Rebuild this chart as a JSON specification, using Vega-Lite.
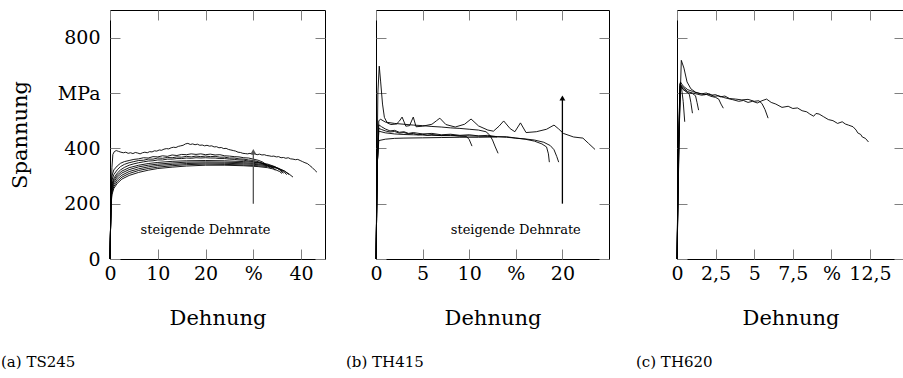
{
"$schema": "https://vega.github.io/schema/vega-lite/v6.json",
"padding": {"left": 0, "top": 9, "right": 0, "bottom": 0},
"config": {
 "font": "DejaVu Serif",
 "view": {"stroke": "black", "strokeWidth": 1},
 "axis": {"domain": false, "grid": false, "tickColor": "#808080", "tickSize": -10, "tickWidth": 1, "labelFlush": false, "labelFont": "DejaVu Serif", "labelFontSize": 19, "labelColor": "black", "titleFont": "DejaVu Serif", "titleFontSize": 21, "titleFontWeight": "normal", "titleColor": "black"},
 "title": {"font": "DejaVu Serif", "fontSize": 15, "fontWeight": "normal", "color": "black", "orient": "bottom", "anchor": "start", "frame": "group"},
 "line": {"color": "black", "strokeWidth": 0.9}
},
"datasets": {
 "a": [
  {"s":"A1","x":0,"y":0},{"s":"A1","x":0.2,"y":200},{"s":"A1","x":0.4,"y":330},{"s":"A1","x":0.6,"y":378},{"s":"A1","x":0.9,"y":388},{"s":"A1","x":1.3,"y":392},{"s":"A1","x":1.8,"y":389},{"s":"A1","x":2.3,"y":386},{"s":"A1","x":2.8,"y":384},{"s":"A1","x":3.3,"y":386},{"s":"A1","x":3.8,"y":382},{"s":"A1","x":4.3,"y":384},{"s":"A1","x":4.8,"y":381},{"s":"A1","x":5.3,"y":385},{"s":"A1","x":5.8,"y":383},{"s":"A1","x":6.3,"y":380},{"s":"A1","x":6.8,"y":384},{"s":"A1","x":7.3,"y":386},{"s":"A1","x":7.8,"y":384},{"s":"A1","x":8.3,"y":388},{"s":"A1","x":8.8,"y":387},{"s":"A1","x":9.3,"y":391},{"s":"A1","x":9.8,"y":390},{"s":"A1","x":10.3,"y":394},{"s":"A1","x":10.8,"y":393},{"s":"A1","x":11.3,"y":397},{"s":"A1","x":11.8,"y":399},{"s":"A1","x":12.3,"y":398},{"s":"A1","x":12.8,"y":402},{"s":"A1","x":13.3,"y":404},{"s":"A1","x":13.8,"y":403},{"s":"A1","x":14.3,"y":407},{"s":"A1","x":14.8,"y":409},{"s":"A1","x":15.3,"y":411},{"s":"A1","x":15.8,"y":416},{"s":"A1","x":16.3,"y":418},{"s":"A1","x":16.8,"y":414},{"s":"A1","x":17.3,"y":416},{"s":"A1","x":17.8,"y":413},{"s":"A1","x":18.3,"y":415},{"s":"A1","x":18.8,"y":411},{"s":"A1","x":19.3,"y":412},{"s":"A1","x":19.8,"y":409},{"s":"A1","x":20.3,"y":411},{"s":"A1","x":20.8,"y":408},{"s":"A1","x":21.3,"y":409},{"s":"A1","x":21.8,"y":405},{"s":"A1","x":22.3,"y":406},{"s":"A1","x":22.8,"y":402},{"s":"A1","x":23.3,"y":403},{"s":"A1","x":23.8,"y":399},{"s":"A1","x":24.3,"y":400},{"s":"A1","x":24.8,"y":396},{"s":"A1","x":25.3,"y":394},{"s":"A1","x":25.8,"y":392},{"s":"A1","x":26.3,"y":390},{"s":"A1","x":26.8,"y":386},{"s":"A1","x":27.3,"y":385},{"s":"A1","x":27.8,"y":382},{"s":"A1","x":28.3,"y":381},{"s":"A1","x":28.8,"y":380},{"s":"A1","x":29.3,"y":382},{"s":"A1","x":29.8,"y":379},{"s":"A1","x":30.3,"y":380},{"s":"A1","x":30.8,"y":377},{"s":"A1","x":31.3,"y":379},{"s":"A1","x":31.8,"y":376},{"s":"A1","x":32.3,"y":377},{"s":"A1","x":32.8,"y":374},{"s":"A1","x":33.3,"y":373},{"s":"A1","x":33.8,"y":371},{"s":"A1","x":34.3,"y":372},{"s":"A1","x":34.8,"y":369},{"s":"A1","x":35.3,"y":370},{"s":"A1","x":35.8,"y":366},{"s":"A1","x":36.3,"y":367},{"s":"A1","x":36.8,"y":364},{"s":"A1","x":37.3,"y":366},{"s":"A1","x":37.8,"y":362},{"s":"A1","x":38.3,"y":361},{"s":"A1","x":38.8,"y":359},{"s":"A1","x":39.3,"y":360},{"s":"A1","x":39.8,"y":356},{"s":"A1","x":40.3,"y":352},{"s":"A1","x":40.8,"y":348},{"s":"A1","x":41.3,"y":345},{"s":"A1","x":41.8,"y":338},{"s":"A1","x":42.3,"y":331},{"s":"A1","x":42.8,"y":322},{"s":"A1","x":43.3,"y":314},
  {"s":"A2","x":0,"y":0},{"s":"A2","x":0.2,"y":200},{"s":"A2","x":0.4,"y":300},{"s":"A2","x":0.8,"y":322},{"s":"A2","x":1.5,"y":336},{"s":"A2","x":2.2,"y":346},{"s":"A2","x":3,"y":352},{"s":"A2","x":4,"y":356},{"s":"A2","x":5,"y":360},{"s":"A2","x":6,"y":362},{"s":"A2","x":7,"y":366},{"s":"A2","x":8,"y":365},{"s":"A2","x":9,"y":370},{"s":"A2","x":10,"y":369},{"s":"A2","x":11,"y":373},{"s":"A2","x":12,"y":371},{"s":"A2","x":13,"y":376},{"s":"A2","x":14,"y":374},{"s":"A2","x":15,"y":378},{"s":"A2","x":16,"y":377},{"s":"A2","x":17,"y":380},{"s":"A2","x":18,"y":378},{"s":"A2","x":19,"y":380},{"s":"A2","x":20,"y":377},{"s":"A2","x":21,"y":379},{"s":"A2","x":22,"y":376},{"s":"A2","x":23,"y":377},{"s":"A2","x":24,"y":373},{"s":"A2","x":25,"y":372},{"s":"A2","x":26,"y":370},{"s":"A2","x":27,"y":369},{"s":"A2","x":28,"y":366},{"s":"A2","x":29,"y":365},{"s":"A2","x":30,"y":361},{"s":"A2","x":31,"y":357},{"s":"A2","x":32,"y":350},{"s":"A2","x":32.8,"y":340},
  {"s":"A3","x":0,"y":0},{"s":"A3","x":0.2,"y":200},{"s":"A3","x":0.4,"y":285},{"s":"A3","x":0.8,"y":305},{"s":"A3","x":1.5,"y":322},{"s":"A3","x":2.2,"y":334},{"s":"A3","x":3,"y":342},{"s":"A3","x":4,"y":348},{"s":"A3","x":5,"y":352},{"s":"A3","x":6,"y":356},{"s":"A3","x":7,"y":357},{"s":"A3","x":8,"y":361},{"s":"A3","x":9,"y":361},{"s":"A3","x":10,"y":365},{"s":"A3","x":11,"y":364},{"s":"A3","x":12,"y":367},{"s":"A3","x":13,"y":366},{"s":"A3","x":14,"y":369},{"s":"A3","x":15,"y":368},{"s":"A3","x":16,"y":371},{"s":"A3","x":17,"y":369},{"s":"A3","x":18,"y":372},{"s":"A3","x":19,"y":370},{"s":"A3","x":20,"y":372},{"s":"A3","x":21,"y":370},{"s":"A3","x":22,"y":371},{"s":"A3","x":23,"y":368},{"s":"A3","x":24,"y":368},{"s":"A3","x":25,"y":365},{"s":"A3","x":26,"y":365},{"s":"A3","x":27,"y":362},{"s":"A3","x":28,"y":361},{"s":"A3","x":29,"y":358},{"s":"A3","x":30,"y":356},{"s":"A3","x":31,"y":352},{"s":"A3","x":32,"y":346},{"s":"A3","x":33,"y":338},{"s":"A3","x":33.6,"y":328},
  {"s":"A4","x":0,"y":0},{"s":"A4","x":0.2,"y":200},{"s":"A4","x":0.4,"y":270},{"s":"A4","x":0.8,"y":292},{"s":"A4","x":1.5,"y":310},{"s":"A4","x":2.2,"y":322},{"s":"A4","x":3,"y":331},{"s":"A4","x":4,"y":339},{"s":"A4","x":5,"y":344},{"s":"A4","x":6,"y":348},{"s":"A4","x":7,"y":351},{"s":"A4","x":8,"y":354},{"s":"A4","x":9,"y":355},{"s":"A4","x":10,"y":358},{"s":"A4","x":11,"y":358},{"s":"A4","x":12,"y":361},{"s":"A4","x":13,"y":361},{"s":"A4","x":14,"y":363},{"s":"A4","x":15,"y":363},{"s":"A4","x":16,"y":365},{"s":"A4","x":17,"y":364},{"s":"A4","x":18,"y":366},{"s":"A4","x":19,"y":365},{"s":"A4","x":20,"y":366},{"s":"A4","x":21,"y":365},{"s":"A4","x":22,"y":365},{"s":"A4","x":23,"y":363},{"s":"A4","x":24,"y":363},{"s":"A4","x":25,"y":361},{"s":"A4","x":26,"y":360},{"s":"A4","x":27,"y":358},{"s":"A4","x":28,"y":357},{"s":"A4","x":29,"y":354},{"s":"A4","x":30,"y":352},{"s":"A4","x":31,"y":349},{"s":"A4","x":32,"y":345},{"s":"A4","x":33,"y":339},{"s":"A4","x":34,"y":330},{"s":"A4","x":34.6,"y":320},
  {"s":"S1","x":0,"y":0},{"s":"S1","x":0.2,"y":210},{"s":"S1","x":0.4,"y":262},{"s":"S1","x":0.8,"y":285},{"s":"S1","x":1.5,"y":303},{"s":"S1","x":2.5,"y":318},{"s":"S1","x":4,"y":330},{"s":"S1","x":6,"y":339},{"s":"S1","x":8,"y":345},{"s":"S1","x":10,"y":349},{"s":"S1","x":13,"y":353},{"s":"S1","x":16,"y":355},{"s":"S1","x":20,"y":356},{"s":"S1","x":24,"y":355},{"s":"S1","x":28,"y":352},{"s":"S1","x":31,"y":348},{"s":"S1","x":33,"y":343},{"s":"S1","x":34.5,"y":334},{"s":"S1","x":35.5,"y":322},{"s":"S1","x":36.3,"y":310},
  {"s":"S2","x":0,"y":0},{"s":"S2","x":0.2,"y":205},{"s":"S2","x":0.4,"y":255},{"s":"S2","x":0.8,"y":278},{"s":"S2","x":1.5,"y":296},{"s":"S2","x":2.5,"y":311},{"s":"S2","x":4,"y":323},{"s":"S2","x":6,"y":333},{"s":"S2","x":8,"y":339},{"s":"S2","x":10,"y":343},{"s":"S2","x":13,"y":347},{"s":"S2","x":16,"y":350},{"s":"S2","x":20,"y":351},{"s":"S2","x":24,"y":350},{"s":"S2","x":28,"y":348},{"s":"S2","x":31,"y":344},{"s":"S2","x":33,"y":340},{"s":"S2","x":34.5,"y":333},{"s":"S2","x":35.5,"y":324},{"s":"S2","x":36.5,"y":313},{"s":"S2","x":37,"y":305},
  {"s":"S3","x":0,"y":0},{"s":"S3","x":0.2,"y":200},{"s":"S3","x":0.4,"y":248},{"s":"S3","x":0.8,"y":270},{"s":"S3","x":1.5,"y":288},{"s":"S3","x":2.5,"y":303},{"s":"S3","x":4,"y":316},{"s":"S3","x":6,"y":326},{"s":"S3","x":8,"y":333},{"s":"S3","x":10,"y":338},{"s":"S3","x":13,"y":342},{"s":"S3","x":16,"y":345},{"s":"S3","x":20,"y":347},{"s":"S3","x":24,"y":346},{"s":"S3","x":28,"y":344},{"s":"S3","x":31,"y":341},{"s":"S3","x":33,"y":337},{"s":"S3","x":35,"y":330},{"s":"S3","x":36.5,"y":318},{"s":"S3","x":37.5,"y":305},
  {"s":"S4","x":0,"y":0},{"s":"S4","x":0.2,"y":195},{"s":"S4","x":0.4,"y":240},{"s":"S4","x":0.8,"y":262},{"s":"S4","x":1.5,"y":280},{"s":"S4","x":2.5,"y":296},{"s":"S4","x":4,"y":309},{"s":"S4","x":6,"y":320},{"s":"S4","x":8,"y":327},{"s":"S4","x":10,"y":332},{"s":"S4","x":13,"y":337},{"s":"S4","x":16,"y":341},{"s":"S4","x":20,"y":343},{"s":"S4","x":24,"y":342},{"s":"S4","x":28,"y":340},{"s":"S4","x":31,"y":337},{"s":"S4","x":33,"y":334},{"s":"S4","x":35,"y":328},{"s":"S4","x":36.5,"y":318},{"s":"S4","x":37.5,"y":307},{"s":"S4","x":38.3,"y":296},
  {"s":"S5","x":0,"y":0},{"s":"S5","x":0.2,"y":190},{"s":"S5","x":0.4,"y":232},{"s":"S5","x":0.8,"y":255},{"s":"S5","x":1.5,"y":273},{"s":"S5","x":2.5,"y":289},{"s":"S5","x":4,"y":302},{"s":"S5","x":6,"y":313},{"s":"S5","x":8,"y":321},{"s":"S5","x":10,"y":327},{"s":"S5","x":13,"y":332},{"s":"S5","x":16,"y":336},{"s":"S5","x":20,"y":339},{"s":"S5","x":24,"y":339},{"s":"S5","x":28,"y":337},{"s":"S5","x":31,"y":334},{"s":"S5","x":33,"y":330},{"s":"S5","x":34.5,"y":324},{"s":"S5","x":35.5,"y":316},{"s":"S5","x":36,"y":309}
 ],
 "b": [
  {"s":"B1","x":0,"y":0},{"s":"B1","x":0.2,"y":600},{"s":"B1","x":0.35,"y":697},{"s":"B1","x":0.5,"y":640},{"s":"B1","x":0.7,"y":560},{"s":"B1","x":0.9,"y":512},{"s":"B1","x":1.2,"y":492},{"s":"B1","x":1.6,"y":486},{"s":"B1","x":2.2,"y":488},{"s":"B1","x":2.5,"y":498},{"s":"B1","x":2.8,"y":513},{"s":"B1","x":3.2,"y":480},{"s":"B1","x":3.6,"y":482},{"s":"B1","x":4.0,"y":513},{"s":"B1","x":4.3,"y":478},{"s":"B1","x":5,"y":480},{"s":"B1","x":6,"y":487},{"s":"B1","x":6.5,"y":500},{"s":"B1","x":6.85,"y":509},{"s":"B1","x":7.5,"y":486},{"s":"B1","x":8.5,"y":477},{"s":"B1","x":9.5,"y":487},{"s":"B1","x":10.2,"y":506},{"s":"B1","x":11,"y":481},{"s":"B1","x":12,"y":466},{"s":"B1","x":12.6,"y":462},{"s":"B1","x":13.2,"y":480},{"s":"B1","x":13.7,"y":499},{"s":"B1","x":14.4,"y":471},{"s":"B1","x":14.9,"y":460},{"s":"B1","x":15.5,"y":492},{"s":"B1","x":16.1,"y":457},{"s":"B1","x":17.2,"y":460},{"s":"B1","x":18.3,"y":469},{"s":"B1","x":19.1,"y":484},{"s":"B1","x":19.6,"y":470},{"s":"B1","x":20.1,"y":454},{"s":"B1","x":21.2,"y":441},{"s":"B1","x":22.2,"y":437},{"s":"B1","x":22.8,"y":418},{"s":"B1","x":23.5,"y":396},
  {"s":"B2","x":0,"y":0},{"s":"B2","x":0.15,"y":350},{"s":"B2","x":0.3,"y":500},{"s":"B2","x":0.5,"y":505},{"s":"B2","x":1,"y":495},{"s":"B2","x":2,"y":490},{"s":"B2","x":3,"y":487},{"s":"B2","x":4,"y":484},{"s":"B2","x":5,"y":482},{"s":"B2","x":6,"y":479},{"s":"B2","x":7,"y":477},{"s":"B2","x":8,"y":474},{"s":"B2","x":9,"y":472},{"s":"B2","x":10,"y":469},{"s":"B2","x":11,"y":466},{"s":"B2","x":11.8,"y":460},{"s":"B2","x":12.2,"y":448},{"s":"B2","x":12.5,"y":430},{"s":"B2","x":12.8,"y":405},{"s":"B2","x":13.1,"y":382},
  {"s":"B3","x":0,"y":0},{"s":"B3","x":0.15,"y":350},{"s":"B3","x":0.3,"y":472},{"s":"B3","x":0.6,"y":468},{"s":"B3","x":1,"y":463},{"s":"B3","x":1.5,"y":459},{"s":"B3","x":2,"y":461},{"s":"B3","x":2.5,"y":455},{"s":"B3","x":3,"y":457},{"s":"B3","x":3.5,"y":452},{"s":"B3","x":4,"y":454},{"s":"B3","x":4.5,"y":449},{"s":"B3","x":5,"y":451},{"s":"B3","x":5.5,"y":447},{"s":"B3","x":6,"y":450},{"s":"B3","x":7,"y":446},{"s":"B3","x":8,"y":448},{"s":"B3","x":9,"y":444},{"s":"B3","x":9.7,"y":443},{"s":"B3","x":10.0,"y":432},{"s":"B3","x":10.3,"y":408},
  {"s":"B4","x":0,"y":0},{"s":"B4","x":0.15,"y":350},{"s":"B4","x":0.3,"y":485},{"s":"B4","x":0.6,"y":478},{"s":"B4","x":1,"y":470},{"s":"B4","x":1.5,"y":463},{"s":"B4","x":2,"y":465},{"s":"B4","x":2.5,"y":458},{"s":"B4","x":3,"y":460},{"s":"B4","x":3.5,"y":454},{"s":"B4","x":4,"y":457},{"s":"B4","x":5,"y":452},{"s":"B4","x":6,"y":454},{"s":"B4","x":7,"y":449},{"s":"B4","x":8,"y":451},{"s":"B4","x":9,"y":447},{"s":"B4","x":10,"y":449},{"s":"B4","x":11,"y":445},{"s":"B4","x":12,"y":447},{"s":"B4","x":13,"y":442},{"s":"B4","x":14,"y":442},{"s":"B4","x":15,"y":437},{"s":"B4","x":16,"y":433},{"s":"B4","x":17,"y":426},{"s":"B4","x":17.8,"y":416},{"s":"B4","x":18.3,"y":405},{"s":"B4","x":18.5,"y":380},{"s":"B4","x":18.6,"y":350},
  {"s":"B5","x":0,"y":0},{"s":"B5","x":0.15,"y":350},{"s":"B5","x":0.3,"y":462},{"s":"B5","x":1,"y":456},{"s":"B5","x":2,"y":452},{"s":"B5","x":3,"y":450},{"s":"B5","x":4,"y":449},{"s":"B5","x":5,"y":448},{"s":"B5","x":6,"y":447},{"s":"B5","x":7,"y":446},{"s":"B5","x":8,"y":446},{"s":"B5","x":9,"y":445},{"s":"B5","x":10,"y":445},{"s":"B5","x":11,"y":444},{"s":"B5","x":12,"y":443},{"s":"B5","x":13,"y":442},{"s":"B5","x":14,"y":440},{"s":"B5","x":15,"y":437},{"s":"B5","x":16,"y":434},{"s":"B5","x":17,"y":430},{"s":"B5","x":18,"y":422},{"s":"B5","x":18.7,"y":410},{"s":"B5","x":19.1,"y":395},{"s":"B5","x":19.4,"y":370},{"s":"B5","x":19.6,"y":350},
  {"s":"B6","x":0,"y":0},{"s":"B6","x":0.15,"y":350},{"s":"B6","x":0.3,"y":428},{"s":"B6","x":1,"y":433},{"s":"B6","x":2,"y":436},{"s":"B6","x":3,"y":437},{"s":"B6","x":5,"y":438},{"s":"B6","x":7,"y":439},{"s":"B6","x":9,"y":440},{"s":"B6","x":11,"y":440},{"s":"B6","x":13,"y":441}
 ],
 "c": [
  {"s":"C1","x":0,"y":0},{"s":"C1","x":0.15,"y":480},{"s":"C1","x":0.28,"y":718},{"s":"C1","x":0.45,"y":690},{"s":"C1","x":0.65,"y":640},{"s":"C1","x":0.9,"y":615},{"s":"C1","x":1.2,"y":603},{"s":"C1","x":1.5,"y":598},{"s":"C1","x":1.8,"y":594},{"s":"C1","x":2.1,"y":597},{"s":"C1","x":2.4,"y":588},{"s":"C1","x":2.7,"y":590},{"s":"C1","x":3.0,"y":584},{"s":"C1","x":3.3,"y":580},{"s":"C1","x":3.6,"y":576},{"s":"C1","x":4.0,"y":570},{"s":"C1","x":4.3,"y":573},{"s":"C1","x":4.6,"y":566},{"s":"C1","x":4.9,"y":570},{"s":"C1","x":5.2,"y":564},{"s":"C1","x":5.5,"y":572},{"s":"C1","x":5.8,"y":578},{"s":"C1","x":6.1,"y":566},{"s":"C1","x":6.4,"y":560},{"s":"C1","x":6.8,"y":548},{"s":"C1","x":7.2,"y":552},{"s":"C1","x":7.5,"y":544},{"s":"C1","x":7.8,"y":546},{"s":"C1","x":8.1,"y":536},{"s":"C1","x":8.4,"y":532},{"s":"C1","x":8.6,"y":524},{"s":"C1","x":8.85,"y":516},{"s":"C1","x":9.0,"y":526},{"s":"C1","x":9.2,"y":524},{"s":"C1","x":9.5,"y":514},{"s":"C1","x":9.8,"y":504},{"s":"C1","x":10.1,"y":500},{"s":"C1","x":10.4,"y":490},{"s":"C1","x":10.7,"y":496},{"s":"C1","x":10.9,"y":488},{"s":"C1","x":11.1,"y":484},{"s":"C1","x":11.4,"y":478},{"s":"C1","x":11.6,"y":466},{"s":"C1","x":11.7,"y":456},{"s":"C1","x":11.9,"y":450},{"s":"C1","x":12.0,"y":441},{"s":"C1","x":12.2,"y":436},{"s":"C1","x":12.4,"y":423},
  {"s":"C2","x":0,"y":0},{"s":"C2","x":0.12,"y":400},{"s":"C2","x":0.22,"y":640},{"s":"C2","x":0.4,"y":625},{"s":"C2","x":0.7,"y":612},{"s":"C2","x":1.0,"y":606},{"s":"C2","x":1.3,"y":600},{"s":"C2","x":1.6,"y":597},{"s":"C2","x":1.9,"y":600},{"s":"C2","x":2.2,"y":592},{"s":"C2","x":2.5,"y":594},{"s":"C2","x":2.8,"y":586},{"s":"C2","x":3.1,"y":589},{"s":"C2","x":3.4,"y":580},{"s":"C2","x":3.8,"y":578},{"s":"C2","x":4.2,"y":575},{"s":"C2","x":4.6,"y":577},{"s":"C2","x":5.0,"y":570},{"s":"C2","x":5.3,"y":572},{"s":"C2","x":5.5,"y":562},{"s":"C2","x":5.7,"y":540},{"s":"C2","x":5.9,"y":509},
  {"s":"C3","x":0,"y":0},{"s":"C3","x":0.1,"y":350},{"s":"C3","x":0.2,"y":630},{"s":"C3","x":0.4,"y":620},{"s":"C3","x":0.7,"y":605},{"s":"C3","x":1.0,"y":600},{"s":"C3","x":1.3,"y":596},{"s":"C3","x":1.6,"y":592},{"s":"C3","x":1.9,"y":595},{"s":"C3","x":2.2,"y":588},{"s":"C3","x":2.5,"y":584},{"s":"C3","x":2.7,"y":578},{"s":"C3","x":2.85,"y":560},{"s":"C3","x":3.0,"y":545},
  {"s":"C4","x":0,"y":0},{"s":"C4","x":0.1,"y":380},{"s":"C4","x":0.2,"y":625},{"s":"C4","x":0.4,"y":615},{"s":"C4","x":0.7,"y":600},{"s":"C4","x":1.0,"y":598},{"s":"C4","x":1.2,"y":590},{"s":"C4","x":1.3,"y":565},{"s":"C4","x":1.4,"y":538},
  {"s":"C5","x":0,"y":0},{"s":"C5","x":0.1,"y":400},{"s":"C5","x":0.2,"y":635},{"s":"C5","x":0.4,"y":612},{"s":"C5","x":0.6,"y":605},{"s":"C5","x":0.8,"y":595},{"s":"C5","x":0.9,"y":565},{"s":"C5","x":1.0,"y":527},
  {"s":"C6","x":0,"y":0},{"s":"C6","x":0.1,"y":450},{"s":"C6","x":0.2,"y":632},{"s":"C6","x":0.3,"y":615},{"s":"C6","x":0.4,"y":570},{"s":"C6","x":0.5,"y":496}
 ],
 "arrowA": [{"x":30,"y":200,"y2":388}],
 "arrowB": [{"x":20,"y":200,"y2":582}],
 "labelA": [{"x":20,"y":105,"t":"steigende Dehnrate"}],
 "labelB": [{"x":15,"y":105,"t":"steigende Dehnrate"}]
},
"spacing": 51,
"bounds": "flush",
"hconcat": [
 {
  "width": 215, "height": 249,
  "title": {"text": "(a) TS245", "dx": -109, "offset": 27},
  "resolve": {"axis": {"x": "independent", "y": "independent"}},
  "layer": [
   {"data": {"name": "a"}, "mark": {"type": "line"},
    "encoding": {
     "x": {"field": "x", "type": "quantitative", "scale": {"domain": [0, 45], "nice": false}, "axis": {"values": [0, 10, 20, 30, 40], "labelExpr": "datum.value == 30 ? '%' : datum.label", "title": "Dehnung", "labelPadding": 15, "titlePadding": 24}},
     "y": {"field": "y", "type": "quantitative", "scale": {"domain": [0, 900], "nice": false}, "axis": {"values": [0, 200, 400, 600, 800], "labelExpr": "datum.value == 600 ? 'MPa' : datum.label", "title": "Spannung", "labelPadding": 20, "titlePadding": 27}},
     "detail": {"field": "s"}}},
   {"data": {"name": "arrowA"}, "mark": {"type": "rule", "color": "#555555", "strokeWidth": 1.3},
    "encoding": {"x": {"field": "x", "type": "quantitative", "axis": null}, "y": {"field": "y", "type": "quantitative", "axis": null}, "y2": {"field": "y2"}}},
   {"data": {"name": "arrowA"}, "mark": {"type": "point", "shape": "triangle-up", "filled": true, "color": "#555555", "size": 35, "opacity": 1},
    "encoding": {"x": {"field": "x", "type": "quantitative", "axis": null}, "y": {"field": "y2", "type": "quantitative", "axis": null}}},
   {"data": {"name": "labelA"}, "mark": {"type": "text", "fontSize": 13, "color": "black", "font": "DejaVu Serif"},
    "encoding": {
     "x": {"field": "x", "type": "quantitative", "axis": {"orient": "top", "values": [0, 10, 20, 30, 40], "labels": false, "title": null}},
     "y": {"field": "y", "type": "quantitative", "axis": {"orient": "right", "values": [0, 200, 400, 600, 800], "labels": false, "title": null}},
     "text": {"field": "t"}}}
  ]
 },
 {
  "spacing": 68,
  "bounds": "flush",
  "hconcat": [
   {
    "width": 233, "height": 249,
    "title": {"text": "(b) TH415", "dx": -30, "offset": 27},
    "resolve": {"axis": {"x": "independent", "y": "independent"}},
    "layer": [
     {"data": {"name": "b"}, "mark": {"type": "line"},
      "encoding": {
       "x": {"field": "x", "type": "quantitative", "scale": {"domain": [0, 25], "nice": false}, "axis": {"values": [0, 5, 10, 15, 20], "labelExpr": "datum.value == 15 ? '%' : datum.label", "title": "Dehnung", "labelPadding": 15, "titlePadding": 24}},
       "y": {"field": "y", "type": "quantitative", "scale": {"domain": [0, 900], "nice": false}, "axis": {"values": [0, 200, 400, 600, 800], "labels": false, "title": null}},
       "detail": {"field": "s"}}},
     {"data": {"name": "arrowB"}, "mark": {"type": "rule", "color": "black", "strokeWidth": 1.3},
      "encoding": {"x": {"field": "x", "type": "quantitative", "axis": null}, "y": {"field": "y", "type": "quantitative", "axis": null}, "y2": {"field": "y2"}}},
     {"data": {"name": "arrowB"}, "mark": {"type": "point", "shape": "triangle-up", "filled": true, "color": "black", "size": 35, "opacity": 1},
      "encoding": {"x": {"field": "x", "type": "quantitative", "axis": null}, "y": {"field": "y2", "type": "quantitative", "axis": null}}},
     {"data": {"name": "labelB"}, "mark": {"type": "text", "fontSize": 13, "color": "black", "font": "DejaVu Serif"},
      "encoding": {
       "x": {"field": "x", "type": "quantitative", "axis": {"orient": "top", "values": [0, 5, 10, 15, 20], "labels": false, "title": null}},
       "y": {"field": "y", "type": "quantitative", "axis": {"orient": "right", "values": [0, 200, 400, 600, 800], "labels": false, "title": null}},
       "text": {"field": "t"}}}
    ]
   },
   {
    "width": 227, "height": 249,
    "title": {"text": "(c) TH620", "dx": -41, "offset": 27},
    "resolve": {"axis": {"x": "independent", "y": "independent"}},
    "layer": [
     {"data": {"name": "c"}, "mark": {"type": "line"},
      "encoding": {
       "x": {"field": "x", "type": "quantitative", "scale": {"domain": [0, 14.7], "nice": false}, "axis": {"values": [0, 2.5, 5, 7.5, 10, 12.5], "labelExpr": "datum.value == 10 ? '%' : replace(format(datum.value, '.1~f'), '.', ',')", "title": "Dehnung", "labelPadding": 15, "titlePadding": 24}},
       "y": {"field": "y", "type": "quantitative", "scale": {"domain": [0, 900], "nice": false}, "axis": {"values": [0, 200, 400, 600, 800], "labels": false, "title": null}},
       "detail": {"field": "s"}}},
     {"data": {"name": "c"}, "mark": {"type": "line", "opacity": 0},
      "encoding": {
       "x": {"field": "x", "type": "quantitative", "axis": {"orient": "top", "values": [0, 2.5, 5, 7.5, 10, 12.5], "labels": false, "title": null}},
       "y": {"field": "y", "type": "quantitative", "axis": {"orient": "right", "values": [0, 200, 400, 600, 800], "labels": false, "title": null}},
       "detail": {"field": "s"}}}
    ]
   }
  ]
 }
]
}
